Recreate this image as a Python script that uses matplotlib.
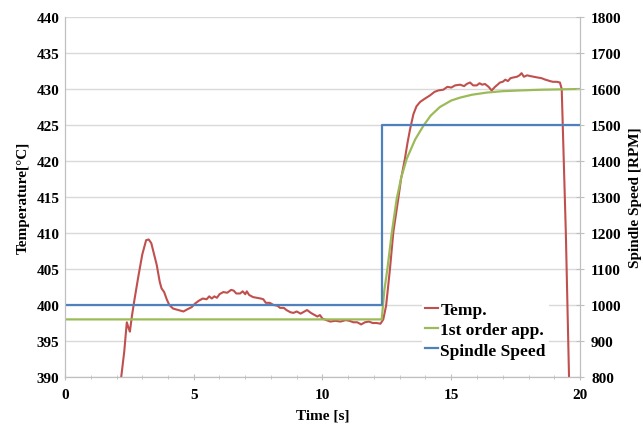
import numpy as np
import matplotlib
matplotlib.use('Agg')
matplotlib.rcParams.update({'font.family': 'Liberation Serif', 'font.weight': 'bold',
                            'axes.labelweight': 'bold', 'font.size': 11})
import matplotlib.pyplot as plt

# temperature measurement [s], [degC]
temp_t = [2.15, 2.3, 2.4, 2.47, 2.52, 2.6, 2.7, 2.85, 3.0, 3.15, 3.25, 3.35, 3.45, 3.56, 3.68,
          3.75, 3.85, 3.95, 4.05, 4.2, 4.4, 4.6, 4.75, 4.92, 5.05, 5.2, 5.35, 5.5, 5.6, 5.7,
          5.8, 5.9, 6.0, 6.15, 6.3, 6.45, 6.55, 6.65, 6.8, 6.9, 7.0, 7.06, 7.15, 7.3, 7.45,
          7.6, 7.7, 7.8, 7.95, 8.1, 8.25, 8.35, 8.5, 8.6, 8.75, 8.87, 9.0, 9.15, 9.3, 9.4,
          9.55, 9.7, 9.8, 9.9, 10.0, 10.15, 10.3, 10.5, 10.7, 10.9, 11.05, 11.2, 11.35, 11.5,
          11.65, 11.8, 11.95, 12.1, 12.25, 12.36, 12.47, 12.62, 12.75, 12.94, 13.05, 13.2,
          13.3, 13.4, 13.53, 13.65, 13.79, 13.95, 14.17, 14.35, 14.5, 14.69, 14.85, 15.0,
          15.15, 15.34, 15.5, 15.6, 15.73, 15.85, 15.99, 16.1, 16.2, 16.31, 16.45, 16.57,
          16.7, 16.8, 16.89, 17.0, 17.1, 17.2, 17.3, 17.41, 17.55, 17.65, 17.73, 17.82,
          17.95, 18.06, 18.2, 18.35, 18.51, 18.65, 18.75, 18.83, 18.95, 19.1, 19.22, 19.29,
          19.45, 19.58]
temp_v = [389.0, 393.5, 397.6, 396.8, 396.3, 398.5, 400.8, 404.0, 407.0, 409.0, 409.1, 408.6,
          407.2, 405.6, 403.2, 402.3, 401.8, 400.8, 400.0, 399.5, 399.3, 399.1, 399.4, 399.7,
          400.2, 400.6, 400.9, 400.8, 401.2, 400.9, 401.2, 401.0, 401.5, 401.8, 401.7, 402.1,
          402.0, 401.6, 401.6, 401.9, 401.5, 401.9, 401.4, 401.1, 401.0, 400.9, 400.8, 400.3,
          400.3, 400.0, 399.9, 399.6, 399.6, 399.3, 399.0, 398.9, 399.1, 398.8, 399.1, 399.3,
          398.9, 398.6, 398.4, 398.6, 398.1, 397.9, 397.7, 397.8, 397.7, 397.9, 397.8, 397.6,
          397.6, 397.3, 397.6, 397.7, 397.5, 397.5, 397.4, 398.0, 399.9, 405.0, 410.1, 414.7,
          417.5, 420.3, 422.5, 424.4, 426.5, 427.6, 428.2, 428.6, 429.1, 429.6, 429.8, 429.9,
          430.3, 430.2, 430.5, 430.6, 430.4, 430.7, 430.9, 430.5, 430.5, 430.8, 430.6, 430.7,
          430.3, 429.8, 430.3, 430.6, 430.9, 431.0, 431.3, 431.1, 431.5, 431.6, 431.7, 431.9,
          432.2, 431.7, 431.9, 431.8, 431.7, 431.6, 431.5, 431.3, 431.2, 431.1, 431.0, 431.0,
          430.9, 430.0, 410.0, 389.0]

# first order approximation
fit_t = [0, 12.3, 12.4, 12.52, 12.69, 12.88, 13.05, 13.27, 13.6, 13.92, 14.2, 14.56, 15.0,
         15.34, 15.8, 16.37, 17.0, 17.67, 18.5, 20]
fit_v = [398, 398, 402.0, 405.0, 410.0, 414.7, 417.6, 420.3, 423.0, 424.9, 426.3, 427.5,
         428.4, 428.8, 429.2, 429.5, 429.7, 429.8, 429.9, 430.0]

# spindle speed [RPM]
speed_t = [0, 12.3, 12.3, 20]
speed_v = [1000, 1000, 1500, 1500]

red, green, blue = '#c0504d', '#9bbb59', '#4f81bd'
gray = '#bfbfbf'

fig = plt.figure(figsize=(6.43, 4.31), dpi=100)
ax = fig.add_axes([65/643., 1-378/431., 515/643., 360/431.])
ax2 = ax.twinx()

l1, = ax.plot(temp_t, temp_v, color=red, linewidth=1.5, label='Temp.')
l2, = ax.plot(fit_t, fit_v, color=green, linewidth=1.6, label='1st order app.')
l3, = ax2.plot(speed_t, speed_v, color=blue, linewidth=1.6, label='Spindle Speed')

ax.set_xlim(0, 20)
ax.set_ylim(390, 440)
ax.set_yticks(np.arange(390, 441, 5))
ax.set_xticks([0, 5, 10, 15, 20])
ax.set_xticks(np.arange(0, 21, 1), minor=True)
ax2.set_ylim(800, 1800)
ax2.set_yticks(np.arange(800, 1801, 100))

ax.yaxis.grid(True, color='#d9d9d9', linewidth=1)
ax.set_axisbelow(True)
for a in (ax, ax2):
    for s in a.spines.values():
        s.set_color(gray)
    a.spines['top'].set_visible(False)
ax.tick_params(axis='y', length=0, pad=4)
ax.tick_params(axis='x', which='both', direction='inout', length=4, color=gray, pad=6)
ax.tick_params(axis='x', which='minor', length=3)
ax2.tick_params(axis='y', direction='inout', length=6, color=gray, pad=5)

ax.set_xlabel('Time [s]', labelpad=5)
ax.set_ylabel('Temperature[\u00b0C]', labelpad=5)
ax2.set_ylabel('Spindle Speed [RPM]')
ax2.yaxis.set_label_coords(1.096, 0.5)

leg = ax2.legend(handles=[l1, l2, l3], loc='center left', bbox_to_anchor=(422/643., 1-331/431.),
                 bbox_transform=fig.transFigure, fontsize=12.5, handlelength=0.75,
                 handletextpad=0.1, labelspacing=0.25, borderpad=0.2, borderaxespad=0,
                 frameon=True, fancybox=False)
leg.get_frame().set_edgecolor('none')
leg.get_frame().set_facecolor('white')
leg.get_frame().set_alpha(1)

fig.canvas.draw()
for a in (ax, ax2):
    for t in a.xaxis.get_major_ticks() + a.yaxis.get_major_ticks():
        t.label1.set_fontweight('bold')
        t.label2.set_fontweight('bold')

plt.savefig('out.png', dpi=100)
plt.close()
